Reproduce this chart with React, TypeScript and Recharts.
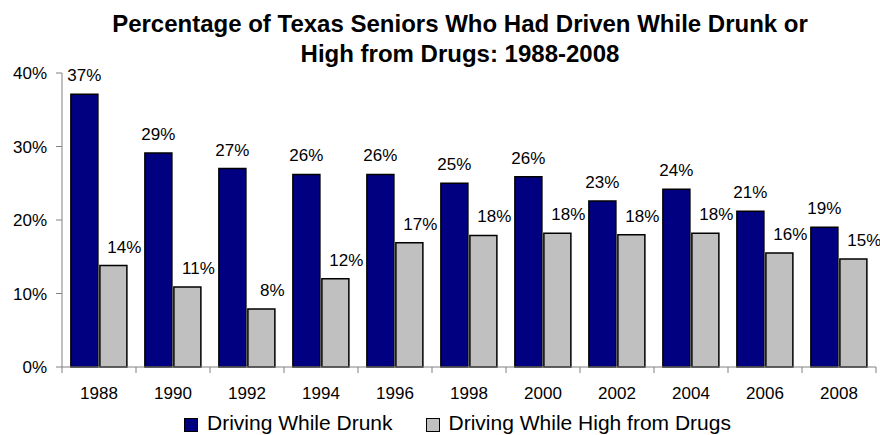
import React from 'react';
import { BarChart, Bar, XAxis, YAxis, Legend, LabelList } from 'recharts';

const FONT = '"Liberation Sans", Arial, sans-serif';
const DRUNK_COLOR = '#000080';
const HIGH_COLOR = '#c0c0c0';
const AXIS_COLOR = '#808080';

// survey years and percentages
const years = ['1988', '1990', '1992', '1994', '1996', '1998', '2000', '2002', '2004', '2006', '2008'];
const drunk = [37.1, 29.1, 27.0, 26.2, 26.2, 25.0, 25.9, 22.6, 24.2, 21.2, 19.0];
const high = [13.8, 10.9, 7.9, 12.0, 16.9, 17.9, 18.2, 18.0, 18.2, 15.5, 14.7];
const yTicks = [0, 10, 20, 30, 40];
const seriesNames = ['Driving While Drunk', 'Driving While High from Drugs'];
const titleLines = ['Percentage of Texas Seniors Who Had Driven While Drunk or', 'High from Drugs: 1988-2008'];

const data = years.map((year, i) => ({ year, drunk: drunk[i], high: high[i] }));

const X_TICK_SIZE = 6;
const X_TICK_MARGIN = 2;

// category label in the middle, tick marks on the band edges
const XTick = (props: any) => {
  const { x, y, payload } = props;
  const half = payload.offset ?? 37;
  const axisY = y - X_TICK_SIZE - X_TICK_MARGIN;
  const isLast = payload.value === years[years.length - 1];
  return (
    <g>
      <line x1={x - half} x2={x - half} y1={axisY} y2={axisY + X_TICK_SIZE} stroke={AXIS_COLOR} />
      {isLast && <line x1={x + half} x2={x + half} y1={axisY} y2={axisY + X_TICK_SIZE} stroke={AXIS_COLOR} />}
      <text x={x} y={axisY + 32} textAnchor="middle" fontSize={17} fill="#000">
        {payload.value}
      </text>
    </g>
  );
};

const makeLabel = (dx: number) => (props: any) => {
  const { x, y, width, value } = props;
  return (
    <text x={Number(x) + Number(width) / 2 + dx} y={Number(y) - 13} textAnchor="middle" fontSize={17} fill="#000">
      {Math.round(value)}%
    </text>
  );
};

const legendColors: Record<string, string> = { drunk: DRUNK_COLOR, high: HIGH_COLOR };

const renderLegend = (props: any) => (
  <div style={{ display: 'flex', alignItems: 'center', fontSize: 21, fontFamily: FONT, color: '#000', whiteSpace: 'nowrap' }}>
    {(props.payload || []).map((entry: any, i: number) => (
      <div key={i} style={{ display: 'flex', alignItems: 'center', marginRight: i === 0 ? 33 : 0 }}>
        <span
          style={{
            display: 'inline-block',
            width: 12,
            height: 12,
            marginTop: 3,
            marginRight: 9,
            background: legendColors[entry.dataKey],
            border: '1px solid #000',
          }}
        />
        <span>{entry.value}</span>
      </div>
    ))}
  </div>
);

export default function App() {
  return (
    <div style={{ position: 'absolute', left: 0, top: 0, width: 880, height: 435, background: '#fff', fontFamily: FONT }}>
      <div
        style={{
          position: 'absolute',
          left: 40,
          top: 9,
          width: 840,
          textAlign: 'center',
          fontSize: 24,
          lineHeight: '30px',
          fontWeight: 'bold',
          color: '#000',
        }}
      >
        {titleLines.map((t) => (
          <div key={t}>{t}</div>
        ))}
      </div>
      <BarChart
        width={880}
        height={435}
        data={data}
        margin={{ top: 73, right: 4, left: 0, bottom: 38 }}
        barCategoryGap="12%"
        barGap={2}
      >
        <XAxis
          dataKey="year"
          height={30}
          interval={0}
          axisLine={{ stroke: AXIS_COLOR }}
          tickLine={false}
          tickSize={X_TICK_SIZE}
          tickMargin={X_TICK_MARGIN}
          tick={<XTick />}
        />
        <YAxis
          width={62}
          domain={[0, 40]}
          ticks={yTicks}
          interval={0}
          tickFormatter={(v) => `${v}%`}
          axisLine={{ stroke: AXIS_COLOR }}
          tickLine={{ stroke: AXIS_COLOR }}
          tickSize={6}
          tickMargin={9}
          tick={{ fill: '#000', fontSize: 17 }}
        />
        <Legend
          layout="horizontal"
          verticalAlign="middle"
          align="center"
          wrapperStyle={{ top: 411, left: 184, width: 'auto' }}
          content={renderLegend}
        />
        <Bar dataKey="drunk" name={seriesNames[0]} fill={DRUNK_COLOR} stroke="#000" strokeWidth={1.5} isAnimationActive={false}>
          <LabelList dataKey="drunk" content={makeLabel(0)} />
        </Bar>
        <Bar dataKey="high" name={seriesNames[1]} fill={HIGH_COLOR} stroke="#000" strokeWidth={1.5} isAnimationActive={false}>
          <LabelList dataKey="high" content={makeLabel(11)} />
        </Bar>
      </BarChart>
    </div>
  );
}
